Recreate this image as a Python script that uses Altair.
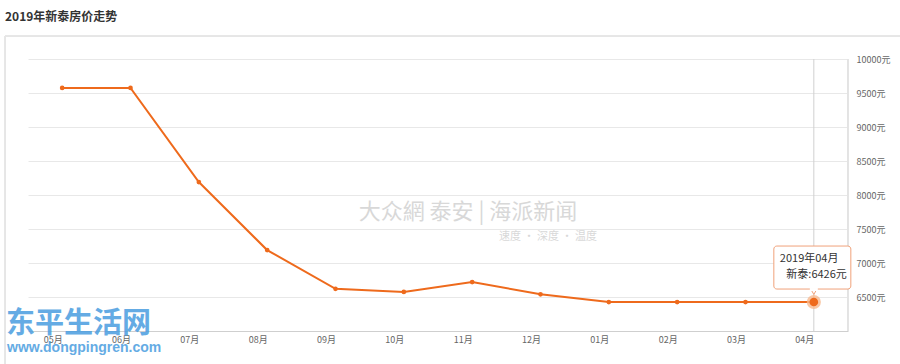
import altair as alt
import pandas as pd

months = ["05月", "06月", "07月", "08月", "09月", "10月", "11月", "12月", "01月", "02月", "03月", "04月"]
prices = [9575, 9575, 8190, 7190, 6620, 6575, 6720, 6540, 6426, 6426, 6426, 6426]
y_ticks = [6500, 7000, 7500, 8000, 8500, 9000, 9500, 10000]
title_text = "2019年新泰房价走势"
tip_month = "2019年04月"
tip_label = "新泰"

FONT = "Noto Sans CJK SC"
ORANGE = "#ee6a1c"
W, H = 820, 272

df = pd.DataFrame({"month": months, "price": prices})
last = df.tail(1).copy()
last["t1"] = tip_month
last["t2"] = tip_label + ":" + last["price"].astype(str) + "元"

xenc = alt.X("month:N", sort=months, scale=alt.Scale(type="point", padding=0.5),
             axis=alt.Axis(title=None, labelFont=FONT, labelFontSize=9, labelColor="#666",
                           labelPadding=8, ticks=False, domainColor="#cfcfcf", grid=False,
                           labelAngle=0, labelFlush=False, labelOverlap=False))
yenc = alt.Y("price:Q", scale=alt.Scale(domain=[6000, 10000], nice=False, zero=False),
             axis=alt.Axis(title=None, orient="right", values=y_ticks, tickCount=20,
                           labelExpr="datum.value + '元'", labelFont=FONT, labelFontSize=9,
                           labelColor="#666", labelPadding=8, ticks=False, domain=False,
                           gridColor="#e8e8e8", labelAlign="left", labelFlush=False,
                           labelOverlap=False, labelBound=False))

base = alt.Chart(df)

line = base.mark_line(color=ORANGE, strokeWidth=2).encode(x=xenc, y=yenc)
pts = base.mark_circle(color=ORANGE, size=22, opacity=1).encode(x=xenc, y=yenc)

lb = alt.Chart(last)
cross = lb.mark_rule(color="#d0d0d0", strokeWidth=1).encode(
    x=alt.X("month:N", sort=months), y=alt.value(0), y2=alt.value(H))
halo = lb.mark_circle(color="#f7b98f", size=200, opacity=0.8).encode(
    x=alt.X("month:N", sort=months), y="price:Q")
big = lb.mark_circle(color=ORANGE, size=75, opacity=1).encode(
    x=alt.X("month:N", sort=months), y="price:Q")

box = lb.mark_rect(fill="white", stroke="#f0a27a", strokeWidth=1, cornerRadius=3,
                   xOffset=-40, x2Offset=37, yOffset=-56, y2Offset=-13).encode(
    x=alt.X("month:N", sort=months), x2="month:N", y="price:Q", y2="price:Q")
tri = lb.mark_point(shape="triangle-down", filled=True, fill="white", stroke="#f0a27a",
                    strokeWidth=1, size=45, yOffset=-10.5, opacity=1).encode(
    x=alt.X("month:N", sort=months), y="price:Q")
cover = lb.mark_rect(fill="white", xOffset=-4, x2Offset=4, yOffset=-14, y2Offset=-11).encode(
    x=alt.X("month:N", sort=months), x2="month:N", y="price:Q", y2="price:Q")
t1 = lb.mark_text(font=FONT, fontSize=11, color="#333", align="left", baseline="middle",
                  dx=-34, dy=-43).encode(x=alt.X("month:N", sort=months), y="price:Q", text="t1:N")
t2 = lb.mark_text(font=FONT, fontSize=11, color="#333", align="right", baseline="middle",
                  dx=33, dy=-27).encode(x=alt.X("month:N", sort=months), y="price:Q", text="t2:N")

right_border = alt.Chart(df).mark_rule(color="#e3e3e3").encode(
    x=alt.value(W), y=alt.value(0), y2=alt.value(H))
panel_top = alt.Chart(df).mark_rule(color="#e6e6e6").encode(
    x=alt.value(-23), x2=alt.value(W + 52), y=alt.value(-23))
panel_left = alt.Chart(df).mark_rule(color="#e6e6e6").encode(
    x=alt.value(-23), y=alt.value(-23), y2=alt.value(H + 33))

title = alt.Chart(pd.DataFrame({"t": [title_text]})).mark_text(
    font=FONT, fontSize=12, fontWeight="bold", color="#333", align="left", baseline="middle"
).encode(x=alt.value(-23), y=alt.value(-42), text="t:N")

wm1 = alt.Chart(pd.DataFrame({"t": ["东平生活网"]})).mark_text(
    font=FONT, fontSize=29, fontWeight="bold", color="#4a9de0", align="left", baseline="middle",
    opacity=0.85).encode(x=alt.value(-22), y=alt.value(265), text="t:N")
wm2 = alt.Chart(pd.DataFrame({"t": ["www.dongpingren.com"]})).mark_text(
    font="Liberation Sans", fontSize=14, fontWeight="bold", color="#4a9de0", align="left",
    baseline="middle", opacity=0.85).encode(x=alt.value(-21), y=alt.value(289), text="t:N")

wm3 = alt.Chart(pd.DataFrame({"t": ["大众網 泰安 | 海派新闻"]})).mark_text(
    font=FONT, fontSize=22, color="#d8d8d8", align="center", baseline="middle"
).encode(x=alt.value(440), y=alt.value(153), text="t:N")
wm4 = alt.Chart(pd.DataFrame({"t": ["速度 · 深度 · 温度"]})).mark_text(
    font=FONT, fontSize=11, color="#d8d8d8", align="center", baseline="middle"
).encode(x=alt.value(520), y=alt.value(178), text="t:N")

chart = alt.layer(
    panel_top, panel_left, wm3, wm4, right_border, cross, line, pts, halo, big,
    tri, box, cover, t1, t2, title, wm1, wm2
).properties(
    width=W, height=H,
    autosize=alt.AutoSizeParams(type="none"),
    padding={"left": 28, "top": 59, "right": 52, "bottom": 33},
    background="white",
).configure_view(stroke=None)

chart.save("out.html", embed_options={"renderer": "svg", "actions": False})
